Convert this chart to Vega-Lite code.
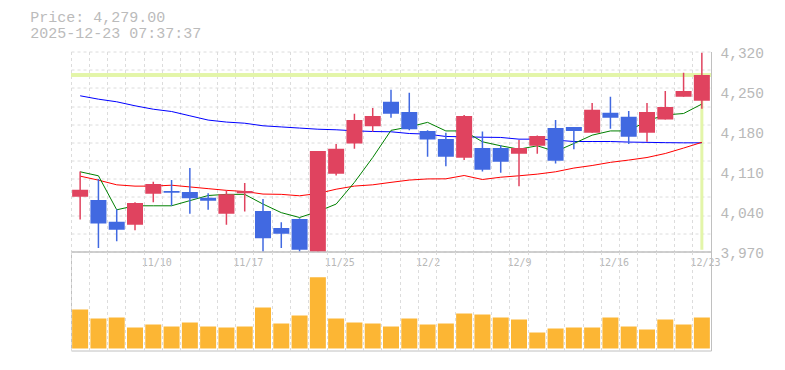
{
  "$schema": "https://vega.github.io/schema/vega-lite/v6.json",
  "padding": {"left": 30, "top": 9.5, "right": 0, "bottom": 0},
  "background": "white",
  "title": {
    "text": ["Price: 4,279.00", "2025-12-23 07:37:37"],
    "anchor": "start",
    "frame": "group",
    "dx": -40.7,
    "offset": 5,
    "font": "Liberation Mono",
    "fontSize": 15,
    "fontWeight": "normal",
    "color": "#bbbbbb",
    "lineHeight": 15.5
  },
  "config": {
    "view": {"stroke": null},
    "axis": {"gridColor": "#dcdcdc", "gridDash": [3, 3], "gridWidth": 1, "domainColor": "#c0c0c0", "domainWidth": 1, "labelColor": "#b8b8b8"}
  },
  "datasets": {
    "ohlc": [
      {"d": "11/4", "o": 4066, "h": 4110, "l": 4026, "c": 4078, "v": 390, "ma5": 4109.5, "ma25": 4101.9, "ma75": 4242.5},
      {"d": "11/5", "o": 4060, "h": 4097, "l": 3976, "c": 4019, "v": 300, "ma5": 4102.5, "ma25": 4094.9, "ma75": 4236.6},
      {"d": "11/6", "o": 4022, "h": 4044, "l": 3988, "c": 4008, "v": 310, "ma5": 4043, "ma25": 4086.7, "ma75": 4232},
      {"d": "11/7", "o": 4017, "h": 4056, "l": 4007, "c": 4055, "v": 210, "ma5": 4050, "ma25": 4084.4, "ma75": 4225},
      {"d": "11/10", "o": 4071, "h": 4092, "l": 4056, "c": 4088, "v": 240, "ma5": 4050, "ma25": 4084.4, "ma75": 4219},
      {"d": "11/11", "o": 4076, "h": 4095, "l": 4050, "c": 4073, "v": 220, "ma5": 4050, "ma25": 4086, "ma75": 4215},
      {"d": "11/12", "o": 4074, "h": 4116, "l": 4036, "c": 4063, "v": 260, "ma5": 4059, "ma25": 4083, "ma75": 4207.5},
      {"d": "11/13", "o": 4064, "h": 4072, "l": 4043, "c": 4059, "v": 220, "ma5": 4068, "ma25": 4080, "ma75": 4200},
      {"d": "11/14", "o": 4036, "h": 4077, "l": 4017, "c": 4070, "v": 210, "ma5": 4070, "ma25": 4077, "ma75": 4196.5},
      {"d": "11/17", "o": 4072, "h": 4090, "l": 4040, "c": 4076, "v": 220, "ma5": 4070, "ma25": 4075, "ma75": 4194.5},
      {"d": "11/18", "o": 4041, "h": 4062, "l": 3968, "c": 3993, "v": 410, "ma5": 4053, "ma25": 4070.5, "ma75": 4190},
      {"d": "11/19", "o": 4011, "h": 4021, "l": 3976, "c": 4001, "v": 250, "ma5": 4038, "ma25": 4070, "ma75": 4188},
      {"d": "11/20", "o": 4027, "h": 4028, "l": 3968, "c": 3973, "v": 330, "ma5": 4029.5, "ma25": 4067.5, "ma75": 4186},
      {"d": "11/21", "o": 3965, "h": 4146, "l": 3960, "c": 4146, "v": 713, "ma5": 4040, "ma25": 4071.5, "ma75": 4184},
      {"d": "11/25", "o": 4106, "h": 4158, "l": 4103, "c": 4150, "v": 300, "ma5": 4053, "ma25": 4079, "ma75": 4183},
      {"d": "11/26", "o": 4159, "h": 4211, "l": 4150, "c": 4200, "v": 260, "ma5": 4091, "ma25": 4084.5, "ma75": 4181.2},
      {"d": "11/27", "o": 4189, "h": 4221, "l": 4180, "c": 4207, "v": 250, "ma5": 4134.5, "ma25": 4086.7, "ma75": 4180},
      {"d": "11/28", "o": 4232, "h": 4253, "l": 4204, "c": 4211, "v": 220, "ma5": 4182, "ma25": 4091, "ma75": 4179.5},
      {"d": "12/1", "o": 4214, "h": 4248, "l": 4182, "c": 4184, "v": 300, "ma5": 4188, "ma25": 4095, "ma75": 4176.5},
      {"d": "12/2", "o": 4181, "h": 4182, "l": 4136, "c": 4166, "v": 240, "ma5": 4196, "ma25": 4097, "ma75": 4175.4},
      {"d": "12/3", "o": 4167, "h": 4178, "l": 4119, "c": 4136, "v": 250, "ma5": 4181, "ma25": 4097.2, "ma75": 4171.3},
      {"d": "12/4", "o": 4134, "h": 4209, "l": 4130, "c": 4207, "v": 350, "ma5": 4181, "ma25": 4103, "ma75": 4170.7},
      {"d": "12/5", "o": 4151, "h": 4180, "l": 4110, "c": 4113, "v": 340, "ma5": 4162, "ma25": 4096, "ma75": 4170},
      {"d": "12/8", "o": 4151, "h": 4156, "l": 4108, "c": 4127, "v": 310, "ma5": 4155, "ma25": 4100, "ma75": 4169.6},
      {"d": "12/9", "o": 4141, "h": 4165, "l": 4084, "c": 4151, "v": 290, "ma5": 4149, "ma25": 4102.5, "ma75": 4166.6},
      {"d": "12/10", "o": 4155, "h": 4173, "l": 4141, "c": 4172, "v": 160, "ma5": 4155, "ma25": 4105.4, "ma75": 4166.6},
      {"d": "12/11", "o": 4186, "h": 4200, "l": 4124, "c": 4129, "v": 200, "ma5": 4145, "ma25": 4109.5, "ma75": 4164.9},
      {"d": "12/12", "o": 4188, "h": 4188, "l": 4149, "c": 4181, "v": 210, "ma5": 4159, "ma25": 4116, "ma75": 4162.5},
      {"d": "12/15", "o": 4178, "h": 4230, "l": 4178, "c": 4218, "v": 210, "ma5": 4173.6, "ma25": 4120.5, "ma75": 4162.5},
      {"d": "12/16", "o": 4213, "h": 4241, "l": 4185, "c": 4204, "v": 310, "ma5": 4181, "ma25": 4126, "ma75": 4162.5},
      {"d": "12/17", "o": 4206, "h": 4216, "l": 4158, "c": 4171, "v": 220, "ma5": 4181, "ma25": 4130, "ma75": 4161.5},
      {"d": "12/18", "o": 4178, "h": 4230, "l": 4162, "c": 4214, "v": 190, "ma5": 4198.7, "ma25": 4134.5, "ma75": 4161},
      {"d": "12/19", "o": 4201, "h": 4251, "l": 4201, "c": 4223, "v": 290, "ma5": 4209, "ma25": 4141.5, "ma75": 4160.5},
      {"d": "12/22", "o": 4241, "h": 4283, "l": 4241, "c": 4251, "v": 240, "ma5": 4211.5, "ma25": 4151, "ma75": 4160.2},
      {"d": "12/23", "o": 4234, "h": 4318, "l": 4220, "c": 4279, "v": 310, "ma5": 4228, "ma25": 4161, "ma75": 4160.2}
    ]
  },
  "spacing": 0,
  "bounds": "flush",
  "vconcat": [
    {
      "width": 640,
      "height": 200,
      "data": {"name": "ohlc"},
      "layer": [
        {
          "mark": {"type": "rule", "color": "#e3f5a9", "strokeWidth": 3},
          "encoding": {
            "y": {
              "datum": 4279,
              "type": "quantitative",
              "scale": {"domain": [3970, 4320], "nice": false, "zero": false},
              "axis": {
                "orient": "left",
                "values": [3970, 4001.818, 4033.636, 4065.455, 4097.273, 4129.091, 4160.909, 4192.727, 4224.545, 4256.364, 4288.182, 4320],
                "grid": true, "labels": false, "ticks": false, "domain": false, "title": null
              }
            }
          }
        },
        {
          "mark": {"type": "bar", "width": 16, "clip": true},
          "encoding": {
            "x": {
              "field": "d", "type": "ordinal", "sort": null,
              "scale": {"paddingInner": 0, "paddingOuter": 0},
              "axis": {
                "orient": "bottom", "bandPosition": 0, "grid": true, "ticks": false, "domain": true,
                "labelExpr": "indexof(['11/10','11/17','11/25','12/2','12/9','12/16','12/23'], datum.label) >= 0 ? datum.label : ''",
                "labelAlign": "left", "labelBaseline": "top", "labelPadding": 6, "labelOffset": -11.5,
                "labelFont": "DejaVu Sans Mono", "labelFontSize": 10, "labelAngle": 0, "labelOverlap": false, "title": null
              }
            },
            "y": {
              "field": "o", "type": "quantitative",
              "scale": {"domain": [3970, 4320], "nice": false, "zero": false},
              "axis": {
                "orient": "right", "values": [3970, 4040, 4110, 4180, 4250, 4320], "format": ",.0f",
                "grid": false, "ticks": false, "domain": true, "labelFont": "Liberation Mono", "labelFontSize": 14.5,
                "labelPadding": 9, "labelOffset": 2, "labelOverlap": false, "title": null
              }
            },
            "y2": {"field": "c"},
            "opacity": {"value": 0}
          }
        },
        {
          "transform": [{"filter": "datum.d == '12/23'"}],
          "mark": {"type": "rule", "color": "#e3f5a9", "strokeWidth": 3},
          "encoding": {
            "x": {"field": "d", "type": "ordinal", "sort": null},
            "y": {"datum": 4279, "type": "quantitative", "scale": {"domain": [3970, 4320], "nice": false, "zero": false}, "axis": null},
            "y2": {"datum": 3973}
          }
        },
        {
          "mark": {"type": "line", "color": "#0000ff", "strokeWidth": 1},
          "encoding": {
            "x": {"field": "d", "type": "ordinal", "sort": null},
            "y": {"field": "ma75", "type": "quantitative", "scale": {"domain": [3970, 4320], "nice": false, "zero": false}, "axis": null}
          }
        },
        {
          "mark": {"type": "line", "color": "#ff0000", "strokeWidth": 1},
          "encoding": {
            "x": {"field": "d", "type": "ordinal", "sort": null},
            "y": {"field": "ma25", "type": "quantitative", "scale": {"domain": [3970, 4320], "nice": false, "zero": false}, "axis": null}
          }
        },
        {
          "mark": {"type": "line", "color": "#008000", "strokeWidth": 1},
          "encoding": {
            "x": {"field": "d", "type": "ordinal", "sort": null},
            "y": {"field": "ma5", "type": "quantitative", "scale": {"domain": [3970, 4320], "nice": false, "zero": false}, "axis": null}
          }
        },
        {
          "mark": {"type": "rule", "strokeWidth": 1.5, "clip": true},
          "encoding": {
            "x": {"field": "d", "type": "ordinal", "sort": null},
            "y": {"field": "l", "type": "quantitative", "scale": {"domain": [3970, 4320], "nice": false, "zero": false}, "axis": null},
            "y2": {"field": "h"},
            "color": {"condition": {"test": "datum.c >= datum.o", "value": "#e0435f"}, "value": "#4169e1"}
          }
        },
        {
          "mark": {"type": "bar", "width": 16, "clip": true},
          "encoding": {
            "x": {"field": "d", "type": "ordinal", "sort": null},
            "y": {"field": "o", "type": "quantitative", "scale": {"domain": [3970, 4320], "nice": false, "zero": false}, "axis": null},
            "y2": {"field": "c"},
            "color": {"condition": {"test": "datum.c >= datum.o", "value": "#e0435f"}, "value": "#4169e1"}
          }
        }
      ],
      "resolve": {"axis": {"y": "independent"}}
    },
    {
      "width": 640,
      "height": 99,
      "data": {"name": "ohlc"},
      "view": {"stroke": "#c0c0c0", "strokeWidth": 1},
      "mark": {"type": "bar", "color": "#fcb634", "width": 16},
      "encoding": {
        "x": {
          "field": "d", "type": "ordinal", "sort": null,
          "scale": {"paddingInner": 0, "paddingOuter": 0},
          "axis": {"orient": "bottom", "bandPosition": 0, "grid": true, "labels": false, "ticks": false, "domain": false, "title": null}
        },
        "y": {"field": "v", "type": "quantitative", "scale": {"domain": [-20, 970], "nice": false, "zero": false}, "axis": null},
        "y2": {"datum": 0}
      }
    }
  ]
}
